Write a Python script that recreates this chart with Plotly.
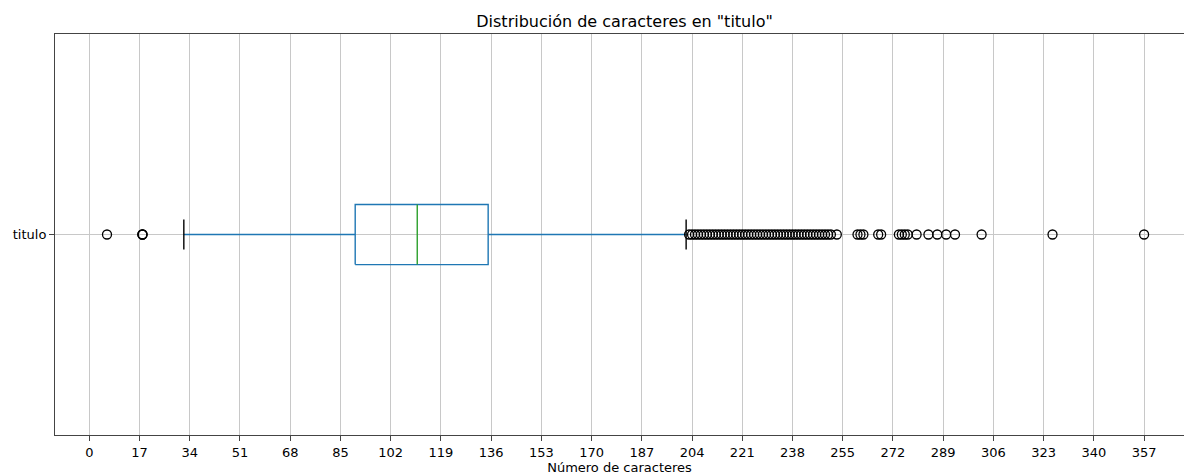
import plotly.graph_objects as go

# Box statistics for the "titulo" column (character counts)
categoria = "titulo"
q1 = 90
mediana = 111
q3 = 135
bigote_inf = 32
bigote_sup = 202

# Values outside the whiskers
atipicos_bajos = [6, 18, 18, 18]
atipicos_altos = [
    203, 204, 205, 206, 207, 208, 209, 210, 211, 212, 213, 214, 215, 216,
    217, 218, 219, 220, 221, 222, 223, 224, 225, 226, 227, 228, 229, 230,
    231, 232, 233, 234, 235, 236, 237, 238, 239, 240, 241, 242, 243, 244,
    245, 246, 247, 248, 249, 250, 251, 253,
    260, 261, 262, 267, 268, 274, 275, 276, 277, 280, 284, 287, 290, 293,
    302, 326, 357,
]

ticks_x = [0, 17, 34, 51, 68, 85, 102, 119, 136, 153, 170, 187, 204, 221,
           238, 255, 272, 289, 306, 323, 340, 357]

AZUL = "#1f77b4"
VERDE = "#2ca02c"
FUENTE = "DejaVu Sans"

pos = 1.0          # category position on the y axis
media_caja = 0.075  # half of the box height
media_tope = 0.0375  # half of the whisker cap length

fig = go.Figure()

# whiskers
fig.add_trace(go.Scatter(
    x=[bigote_inf, q1, None, q3, bigote_sup],
    y=[pos, pos, None, pos, pos],
    mode="lines", line=dict(color=AZUL, width=1.4),
    hoverinfo="skip", showlegend=False,
))

# box
fig.add_trace(go.Scatter(
    x=[q1, q3, q3, q1, q1],
    y=[pos - media_caja, pos - media_caja, pos + media_caja, pos + media_caja, pos - media_caja],
    mode="lines", line=dict(color=AZUL, width=1.4),
    hoverinfo="skip", showlegend=False,
))

# median
fig.add_trace(go.Scatter(
    x=[mediana, mediana],
    y=[pos - media_caja, pos + media_caja],
    mode="lines", line=dict(color=VERDE, width=1.4),
    hoverinfo="skip", showlegend=False,
))

# caps
fig.add_trace(go.Scatter(
    x=[bigote_inf, bigote_inf, None, bigote_sup, bigote_sup],
    y=[pos - media_tope, pos + media_tope, None, pos - media_tope, pos + media_tope],
    mode="lines", line=dict(color="black", width=1.4),
    hoverinfo="skip", showlegend=False,
))

# outliers
atipicos = atipicos_bajos + atipicos_altos
fig.add_trace(go.Scatter(
    x=atipicos, y=[pos] * len(atipicos),
    mode="markers",
    marker=dict(symbol="circle-open", size=9, color="black", line=dict(width=1.3)),
    showlegend=False,
))

fig.update_layout(
    width=1184, height=475,
    margin=dict(l=55, r=0, t=34, b=40),
    paper_bgcolor="white", plot_bgcolor="white",
    font=dict(family=FUENTE, size=13, color="black"),
    title=dict(
        text='Distribución de caracteres en "titulo"',
        font=dict(family=FUENTE, size=16, color="black"),
        xref="container", x=0.5275, xanchor="center",
        yref="container", y=1 - 21 / 475, yanchor="middle",
    ),
    xaxis=dict(
        range=[-11.6, 370.5],
        tickvals=ticks_x, ticktext=[str(t) for t in ticks_x],
        showgrid=True, gridcolor="#c8c8c8", gridwidth=1,
        zeroline=False,
        showline=True, linecolor="#444444", linewidth=1, mirror=True,
        ticks="outside", ticklen=5, tickcolor="#444444",
        tickfont=dict(family=FUENTE, size=13, color="black"),
        title=dict(text="Número de caracteres", standoff=6,
                   font=dict(family=FUENTE, size=13, color="black")),
    ),
    yaxis=dict(
        range=[0.5, 1.5],
        tickvals=[pos], ticktext=[categoria],
        showgrid=True, gridcolor="#c8c8c8", gridwidth=1,
        zeroline=False,
        showline=True, linecolor="#444444", linewidth=1, mirror=False,
        ticks="outside", ticklen=5, tickcolor="#444444",
        tickfont=dict(family=FUENTE, size=13, color="black"),
    ),
)

fig.write_html("out.html")
